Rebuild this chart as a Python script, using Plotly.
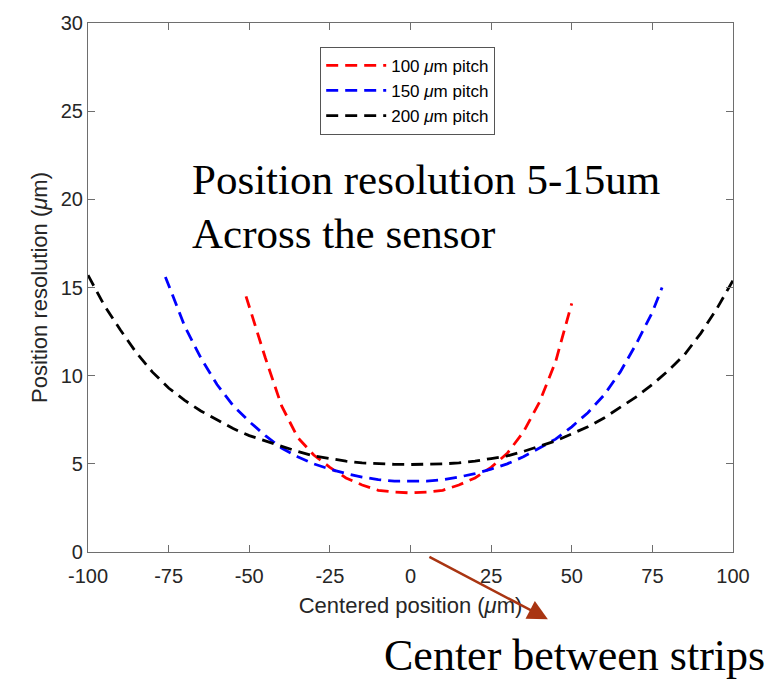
import plotly.graph_objects as go

# ---- data ----
x100 = [-51, -45, -40, -35, -30, -25, -20, -15, -10, -5, 0, 5, 10, 15, 20, 25, 30, 35, 40, 45, 50]
y100 = [14.5, 11.0, 8.3, 6.5, 5.5, 4.8, 4.2, 3.8, 3.5, 3.4, 3.35, 3.4, 3.5, 3.8, 4.2, 4.8, 5.6, 6.8, 8.5, 10.8, 14.1]

x150 = [-76, -70, -65, -60, -55, -50, -45, -40, -35, -30, -25, -20, -15, -10, -5, 0,
        5, 10, 15, 20, 25, 30, 35, 40, 45, 50, 55, 60, 65, 70, 75, 78]
y150 = [15.6, 12.8, 11.0, 9.5, 8.3, 7.4, 6.6, 5.9, 5.4, 5.0, 4.7, 4.45, 4.25, 4.1, 4.02, 4.0,
        4.02, 4.1, 4.25, 4.45, 4.7, 5.0, 5.4, 5.9, 6.4, 7.1, 7.9, 8.9, 10.2, 11.8, 13.6, 15.0]

x200 = [-100, -95, -90, -85, -80, -75, -70, -65, -60, -55, -50, -45, -40, -35, -30, -25, -20, -15, -10, -5, 0,
        5, 10, 15, 20, 25, 30, 35, 40, 45, 50, 55, 60, 65, 70, 75, 80, 85, 90, 95, 100]
y200 = [15.7, 14.0, 12.6, 11.3, 10.2, 9.3, 8.6, 8.0, 7.5, 7.0, 6.6, 6.3, 6.0, 5.7, 5.45, 5.3, 5.15, 5.05, 5.0, 4.97, 4.96,
        4.97, 5.0, 5.05, 5.15, 5.3, 5.45, 5.7, 6.0, 6.3, 6.7, 7.1, 7.6, 8.2, 8.8, 9.5, 10.3, 11.2, 12.4, 13.8, 15.4]

names = ["100 <i>μ</i>m pitch", "150 <i>μ</i>m pitch", "200 <i>μ</i>m pitch"]
colors = ["#FF0000", "#0000FF", "#000000"]

xticks = [-100, -75, -50, -25, 0, 25, 50, 75, 100]
yticks = [0, 5, 10, 15, 20, 25, 30]

fig = go.Figure()
for xs, ys, nm, c in zip([x100, x150, x200], [y100, y150, y200], names, colors):
    fig.add_trace(go.Scatter(x=xs, y=ys, mode="lines", name=nm,
                             line=dict(color=c, width=2.8, dash="12px,7px")))

axcol = "#6e6e6e"
sans = "Liberation Sans, Arial"
tickfont = dict(family=sans, size=20, color="#262626")
titlefont = dict(family=sans, size=22, color="#262626")
fig.update_xaxes(range=[-100, 100], tickvals=xticks, ticktext=[str(v) for v in xticks],
                 showgrid=False, zeroline=False, showline=True, linecolor=axcol, linewidth=1.2,
                 mirror="ticks", ticks="inside", ticklen=7, tickcolor=axcol, tickfont=tickfont,
                 ticklabelstandoff=6, ticklabeloverflow="allow",
                 title=dict(text="Centered position (<i>μ</i>m)", font=titlefont, standoff=11))
fig.update_yaxes(range=[0, 30], tickvals=yticks, ticktext=[str(v) for v in yticks],
                 showgrid=False, zeroline=False, showline=True, linecolor=axcol, linewidth=1.2,
                 mirror="ticks", ticks="inside", ticklen=7, tickcolor=axcol, tickfont=tickfont,
                 ticklabeloverflow="allow",
                 title=dict(text="Position resolution (<i>μ</i>m)", font=titlefont, standoff=6))

serif = "Liberation Serif, Times New Roman, serif"
fig.add_annotation(text="Position resolution 5-15um", xref="paper", yref="paper",
                   x=0.158, y=0.705, xanchor="left", yanchor="middle", showarrow=False,
                   font=dict(family=serif, size=43, color="#000000"))
fig.add_annotation(text="Across the sensor", xref="paper", yref="paper",
                   x=0.158, y=0.602, xanchor="left", yanchor="middle", showarrow=False,
                   font=dict(family=serif, size=43, color="#000000"))
fig.add_annotation(text="Center between strips", xref="paper", yref="paper",
                   x=0.456, y=-0.196, xanchor="left", yanchor="middle", showarrow=False,
                   font=dict(family=serif, size=44, color="#000000"))
fig.add_annotation(text="", xref="paper", yref="paper", x=0.713, y=-0.127,
                   ax=-120, ay=-63, showarrow=True, arrowhead=2, arrowsize=1.6,
                   arrowwidth=2.5, arrowcolor="#A93512")

fig.update_layout(
    width=780, height=685,
    margin=dict(l=88, r=47, t=16, b=133),
    paper_bgcolor="white", plot_bgcolor="white",
    legend=dict(x=0.36, y=0.955, xanchor="left", yanchor="top",
                bgcolor="white", bordercolor="#555555", borderwidth=1,
                font=dict(family=sans, size=17, color="#000000"),
                itemwidth=60, tracegroupgap=0),
    showlegend=True,
)

fig.write_html("out.html", config={"displayModeBar": False},
               post_script="document.body.style.margin='0';")
